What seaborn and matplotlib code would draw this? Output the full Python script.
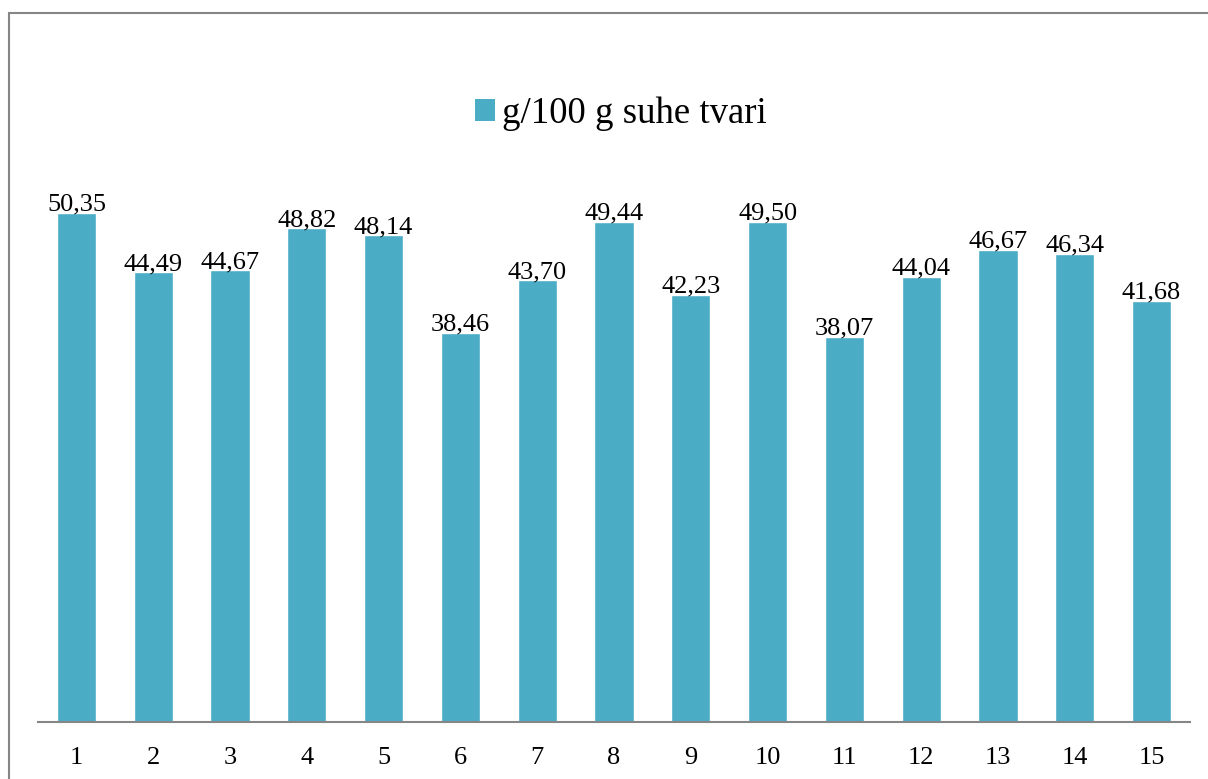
import matplotlib
matplotlib.use('Agg')
import matplotlib.pyplot as plt
import seaborn as sns
import pandas as pd
from matplotlib.patches import Rectangle, Patch

SAMPLES = [str(i) for i in range(1, 16)]
VALUES = [50.35, 44.49, 44.67, 48.82, 48.14, 38.46, 43.70, 49.44,
          42.23, 49.50, 38.07, 44.04, 46.67, 46.34, 41.68]
SERIES = 'g/100 g suhe tvari'

BAR_COLOR = '#4BACC6'
GRAY = '#868686'

sns.set_style('white')
plt.rcParams['font.family'] = ['Liberation Serif', 'DejaVu Serif']
plt.rcParams['text.color'] = 'black'
plt.rcParams['xtick.color'] = 'black'

df = pd.DataFrame({'uzorak': SAMPLES, 'vrijednost': VALUES})

fig = plt.figure(figsize=(12.08, 7.79), dpi=100)
ax = fig.add_axes([38 / 1208, 57 / 779, 1152 / 1208, 606.6 / 779])

sns.barplot(data=df, x='uzorak', y='vrijednost', color=BAR_COLOR,
            saturation=1, width=0.51, ax=ax)
ax.set_ylim(0, 60)
ax.set_xlim(-0.5, len(SAMPLES) - 0.5)

labels = [f'{v:.2f}'.replace('.', ',') for v in VALUES]
ax.bar_label(ax.containers[0], labels=labels, padding=-2, fontsize=19,
             color='black')

ax.set_xlabel('')
ax.set_ylabel('')
ax.set_yticks([])
ax.tick_params(axis='x', length=0, labelsize=19, pad=18, labelcolor='black')
for side in ['left', 'right', 'top']:
    ax.spines[side].set_visible(False)
ax.spines['bottom'].set_color(GRAY)
ax.spines['bottom'].set_linewidth(1.5)

handle = Patch(facecolor=BAR_COLOR, edgecolor='none')
fig.legend([handle], [SERIES], loc='center', bbox_to_anchor=(0.514, 1 - 114 / 779),
           frameon=False, fontsize=26.5, handlelength=0.55, handleheight=0.55,
           handletextpad=0.2, labelcolor='black')

# chart border (cut off at right and bottom like the original)
fig.patches.append(Rectangle((8.5 / 1208, -0.05), 1.2, 1 - 13 / 779 + 0.05,
                             transform=fig.transFigure, fill=False,
                             edgecolor=GRAY, linewidth=1.5, zorder=0))

fig.savefig('out.png', dpi=100)
